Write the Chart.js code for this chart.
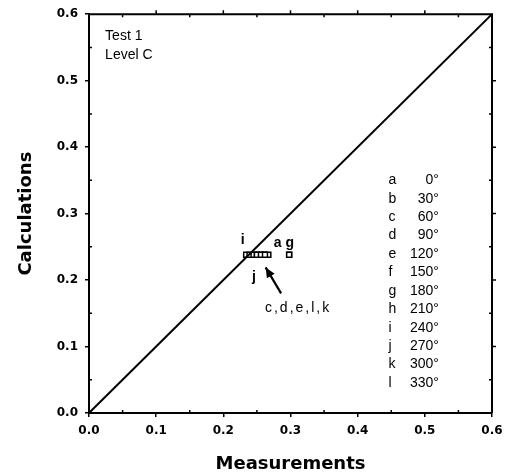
<!DOCTYPE html>
<html>
<head>
<meta charset="utf-8">
<script src="https://cdn.jsdelivr.net/npm/chart.js@4"></script>
<style>
  html, body { margin: 0; padding: 0; background: #fff; }
  #wrap { width: 517px; height: 476px; position: relative; }
</style>
</head>
<body>
<div id="wrap"><canvas id="chart"></canvas></div>
<script>
// Measured vs calculated values for each orientation (letters a..l)
const pointLetters = ['i', 'j', 'c', 'd', 'e', 'l', 'k', 'b', 'f', 'h', 'a', 'g'];
const measurements = [0.234, 0.239, 0.245, 0.250, 0.256, 0.262, 0.267, 0.250, 0.256, 0.262, 0.298, 0.298];
const calculations = [0.238, 0.238, 0.238, 0.238, 0.238, 0.238, 0.238, 0.238, 0.238, 0.238, 0.238, 0.238];

// 1:1 reference line
const diagonalX = [0, 0.6];
const diagonalY = [0, 0.6];

// Orientation key
const keyLetters = ['a', 'b', 'c', 'd', 'e', 'f', 'g', 'h', 'i', 'j', 'k', 'l'];
const keyAngles = ['0°', '30°', '60°', '90°', '120°', '150°', '180°', '210°', '240°', '270°', '300°', '330°'];

const axisMin = 0;
const axisMax = 0.6;
const majorStep = 0.1;
const minorStep = 0.05;

const TICK_FONT = { family: 'DejaVu Sans', size: 12, weight: 'bold' };
const TITLE_FONT = { family: 'DejaVu Sans', size: 18, weight: 'bold' };
const TEXT_FONT = '14px "Liberation Sans", Arial, sans-serif';

// Frame, minor ticks and in-plot annotations
const annotationPlugin = {
  id: 'annotations',
  afterDraw(chart) {
    const ctx = chart.ctx;
    const xs = chart.scales.x;
    const ys = chart.scales.y;
    const X = v => xs.getPixelForValue(v);
    const Y = v => ys.getPixelForValue(v);
    const area = chart.chartArea;

    ctx.save();
    ctx.strokeStyle = '#000';
    ctx.fillStyle = '#000';

    // top and right frame lines
    ctx.lineWidth = 2;
    ctx.beginPath();
    ctx.moveTo(area.left, area.top);
    ctx.lineTo(area.right, area.top);
    ctx.lineTo(area.right, area.bottom);
    ctx.stroke();

    // minor ticks inside; top/right get small ticks at every step
    ctx.lineWidth = 1.5;
    ctx.beginPath();
    for (let v = axisMin + minorStep; v < axisMax - 1e-9; v += minorStep) {
      const isMajor = Math.abs(v / majorStep - Math.round(v / majorStep)) < 1e-6;
      if (!isMajor) {
        ctx.moveTo(X(v), area.bottom);
        ctx.lineTo(X(v), area.bottom - 3);
        ctx.moveTo(area.left, Y(v));
        ctx.lineTo(area.left + 3, Y(v));
      }
      ctx.moveTo(X(v), area.top);
      ctx.lineTo(X(v), area.top - (isMajor ? 4 : -3));
      ctx.moveTo(area.right, Y(v));
      ctx.lineTo(area.right + (isMajor ? 4 : -3), Y(v));
    }
    ctx.stroke();

    // corner text
    ctx.font = TEXT_FONT;
    ctx.textAlign = 'left';
    ctx.textBaseline = 'middle';
    ctx.fillText('Test 1', X(0.024), Y(0.567));
    ctx.fillText('Level C', X(0.024), Y(0.538));

    // point labels
    ctx.font = 'bold 14px "Liberation Sans", Arial, sans-serif';
    ctx.textAlign = 'center';
    ctx.fillText('i', X(0.229), Y(0.260));
    ctx.fillText('a', X(0.281), Y(0.256));
    ctx.fillText('g', X(0.299), Y(0.256));
    ctx.fillText('j', X(0.2455), Y(0.205));
    ctx.textAlign = 'left';
    ctx.font = TEXT_FONT;
    ctx.letterSpacing = '2px';
    ctx.fillText('c,d,e,l,k', X(0.262), Y(0.158));
    ctx.letterSpacing = '0px';

    // arrow
    const tx = X(0.286), ty = Y(0.180);
    const hx = X(0.263), hy = Y(0.219);
    ctx.lineWidth = 2.2;
    ctx.beginPath();
    ctx.moveTo(tx, ty);
    ctx.lineTo(hx, hy);
    ctx.stroke();
    const ang = Math.atan2(hy - ty, hx - tx);
    const hl = 10, hw = 4.5;
    ctx.beginPath();
    ctx.moveTo(hx, hy);
    ctx.lineTo(hx - hl * Math.cos(ang) + hw * Math.sin(ang), hy - hl * Math.sin(ang) - hw * Math.cos(ang));
    ctx.lineTo(hx - hl * Math.cos(ang) - hw * Math.sin(ang), hy - hl * Math.sin(ang) + hw * Math.cos(ang));
    ctx.closePath();
    ctx.fill();

    // orientation key
    ctx.font = TEXT_FONT;
    keyLetters.forEach((letter, i) => {
      const yv = 0.350 - i * 0.0277;
      ctx.textAlign = 'left';
      ctx.fillText(letter, X(0.446), Y(yv));
      ctx.textAlign = 'right';
      ctx.fillText(keyAngles[i], X(0.521), Y(yv));
    });

    ctx.restore();
  }
};

const ctx = document.getElementById('chart');
new Chart(ctx, {
  type: 'scatter',
  data: {
    datasets: [
      {
        type: 'line',
        data: diagonalX.map((x, i) => ({ x, y: diagonalY[i] })),
        borderColor: '#000',
        borderWidth: 2,
        pointRadius: 0,
        fill: false
      },
      {
        data: measurements.map((x, i) => ({ x, y: calculations[i], label: pointLetters[i] })),
        pointStyle: 'rect',
        pointRadius: 3.5,
        backgroundColor: '#fff',
        borderColor: '#000',
        borderWidth: 1.5
      }
    ]
  },
  options: {
    responsive: true,
    maintainAspectRatio: false,
    animation: false,
    layout: { padding: { left: 0, right: 25, top: 14, bottom: 0 } },
    plugins: {
      legend: { display: false },
      tooltip: { enabled: false }
    },
    scales: {
      x: {
        type: 'linear',
        min: axisMin,
        max: axisMax,
        afterFit: scale => { scale.height = 63; },
        border: { display: true, color: '#000', width: 2 },
        grid: { display: true, drawOnChartArea: false, drawTicks: true, tickLength: 4, color: '#000', lineWidth: 1.5 },
        ticks: {
          stepSize: majorStep,
          color: '#000',
          font: TICK_FONT,
          padding: 7,
          maxRotation: 0,
          callback: v => Number(v).toFixed(1)
        },
        title: {
          display: true,
          text: 'Measurements',
          color: '#000',
          font: TITLE_FONT,
          padding: { top: 0, bottom: 1 }
        }
      },
      y: {
        type: 'linear',
        min: axisMin,
        max: axisMax,
        afterFit: scale => { scale.width = 89; },
        border: { display: true, color: '#000', width: 2 },
        grid: { display: true, drawOnChartArea: false, drawTicks: true, tickLength: 4, color: '#000', lineWidth: 1.5 },
        ticks: {
          stepSize: majorStep,
          color: '#000',
          font: TICK_FONT,
          padding: 7,
          callback: v => Number(v).toFixed(1)
        },
        title: {
          display: true,
          text: 'Calculations',
          color: '#000',
          font: TITLE_FONT,
          padding: { top: 16, bottom: 0 }
        }
      }
    }
  },
  plugins: [annotationPlugin]
});
</script>
</body>
</html>
